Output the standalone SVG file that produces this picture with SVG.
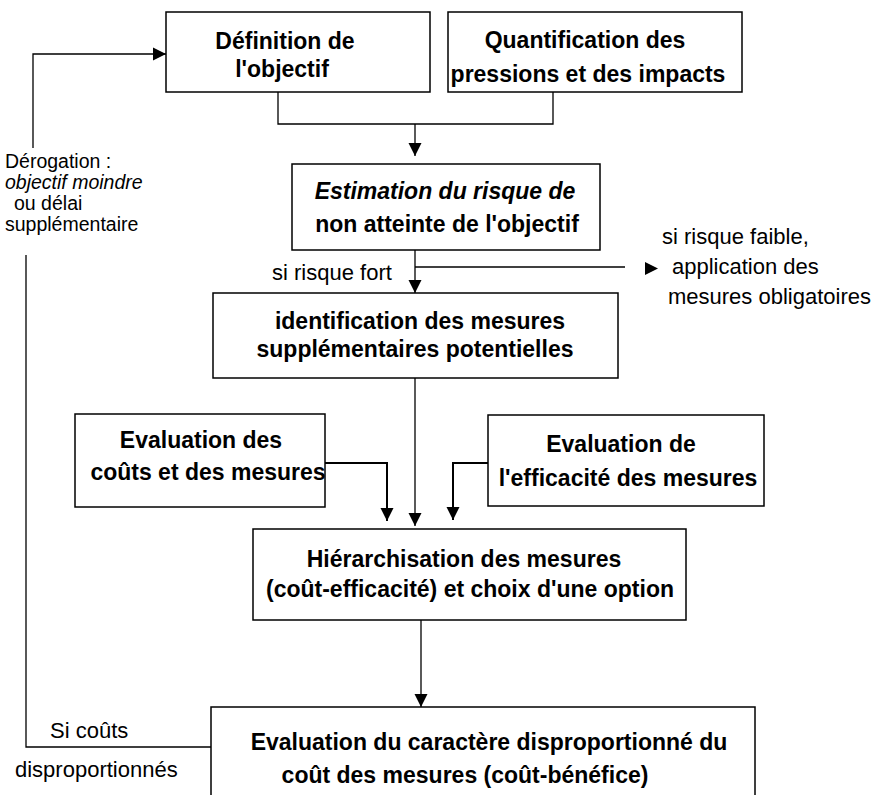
<svg xmlns="http://www.w3.org/2000/svg" width="879" height="795" viewBox="0 0 879 795">
<style>
.box{fill:#fff;stroke:#000;stroke-width:1.5}
.b{font-family:"Liberation Sans",Arial,sans-serif;font-weight:bold;font-size:23px;text-anchor:middle;fill:#000}
.bi{font-style:italic}
.r{font-family:"Liberation Sans",Arial,sans-serif;font-size:22px;fill:#000}
.s{font-family:"Liberation Sans",Arial,sans-serif;font-size:19.5px;fill:#000}
.ln{fill:none;stroke:#000;stroke-width:1.3}
.lnb{fill:none;stroke:#000;stroke-width:2}
</style>
<defs>
<marker id="arr" markerUnits="userSpaceOnUse" markerWidth="14" markerHeight="14" refX="13" refY="7" orient="auto">
<path d="M0,0.5 L13,7 L0,13.5 z" fill="#000"/>
</marker>
</defs>
<rect width="879" height="795" fill="#fff"/>
<g id="connectors">
<path class="ln" d="M278,92 V124 H553 V92"/>
<path class="ln" d="M415,124 V156" marker-end="url(#arr)"/>
<path class="ln" d="M415,250 V293" marker-end="url(#arr)"/>
<path class="ln" d="M415,267 H625"/>
<polygon points="645,262 658,268.5 645,275" fill="#000"/>
<path class="ln" d="M415,378 V526" marker-end="url(#arr)"/>
<path class="lnb" d="M325,463 H387 V521" marker-end="url(#arr)"/>
<path class="lnb" d="M488,463 H453 V520" marker-end="url(#arr)"/>
<path class="ln" d="M421,620 V707" marker-end="url(#arr)"/>
<path class="ln" d="M211,747 H26 V255"/>
<path class="ln" d="M33,148 V54 H166" marker-end="url(#arr)"/>
</g>
<g id="n1">
<rect class="box" x="166" y="12" width="264" height="80"/>
<text class="b" x="285" y="49">Définition de</text>
<text class="b" x="282" y="77">l'objectif</text>
</g>
<g id="n2">
<rect class="box" x="448" y="12" width="294" height="80"/>
<text class="b" x="585" y="48">Quantification des</text>
<text class="b" x="588" y="82">pressions et des impacts</text>
</g>
<g id="n3">
<rect class="box" x="292" y="164" width="308" height="86"/>
<text class="b bi" x="445" y="199">Estimation du risque de</text>
<text class="b" x="447" y="232">non atteinte de l'objectif</text>
</g>
<g id="n4">
<rect class="box" x="213" y="293" width="405" height="85"/>
<text class="b" x="420" y="329">identification des mesures</text>
<text class="b" x="415" y="357">supplémentaires potentielles</text>
</g>
<g id="n5">
<rect class="box" x="75" y="414" width="250" height="93"/>
<text class="b" x="201" y="448">Evaluation des</text>
<text class="b" x="208" y="480">coûts et des mesures</text>
</g>
<g id="n7">
<rect class="box" x="488" y="415" width="276" height="91"/>
<text class="b" x="621" y="452">Evaluation de</text>
<text class="b" x="628" y="486">l'efficacité des mesures</text>
</g>
<g id="n6">
<rect class="box" x="253" y="529" width="433" height="91"/>
<text class="b" x="464" y="567">Hiérarchisation des mesures</text>
<text class="b" x="470" y="597">(coût-efficacité) et choix d'une option</text>
</g>
<g id="n8">
<rect class="box" x="211" y="707" width="544" height="100"/>
<text class="b" x="489" y="750">Evaluation du caractère disproportionné du</text>
<text class="b" x="465" y="783">coût des mesures (coût-bénéfice)</text>
</g>
<g id="labels">
<text class="s" x="5" y="168">Dérogation :</text>
<text class="s" x="5" y="189" font-style="italic">objectif moindre</text>
<text class="s" x="14" y="210">ou délai</text>
<text class="s" x="5" y="231">supplémentaire</text>
<text class="r" x="272" y="280">si risque fort</text>
<text class="r" x="662" y="244">si risque faible,</text>
<text class="r" x="672" y="274">application des</text>
<text class="r" x="668" y="304">mesures obligatoires</text>
<text class="r" x="50" y="738">Si coûts</text>
<text class="r" x="15" y="777">disproportionnés</text>
</g>
</svg>
